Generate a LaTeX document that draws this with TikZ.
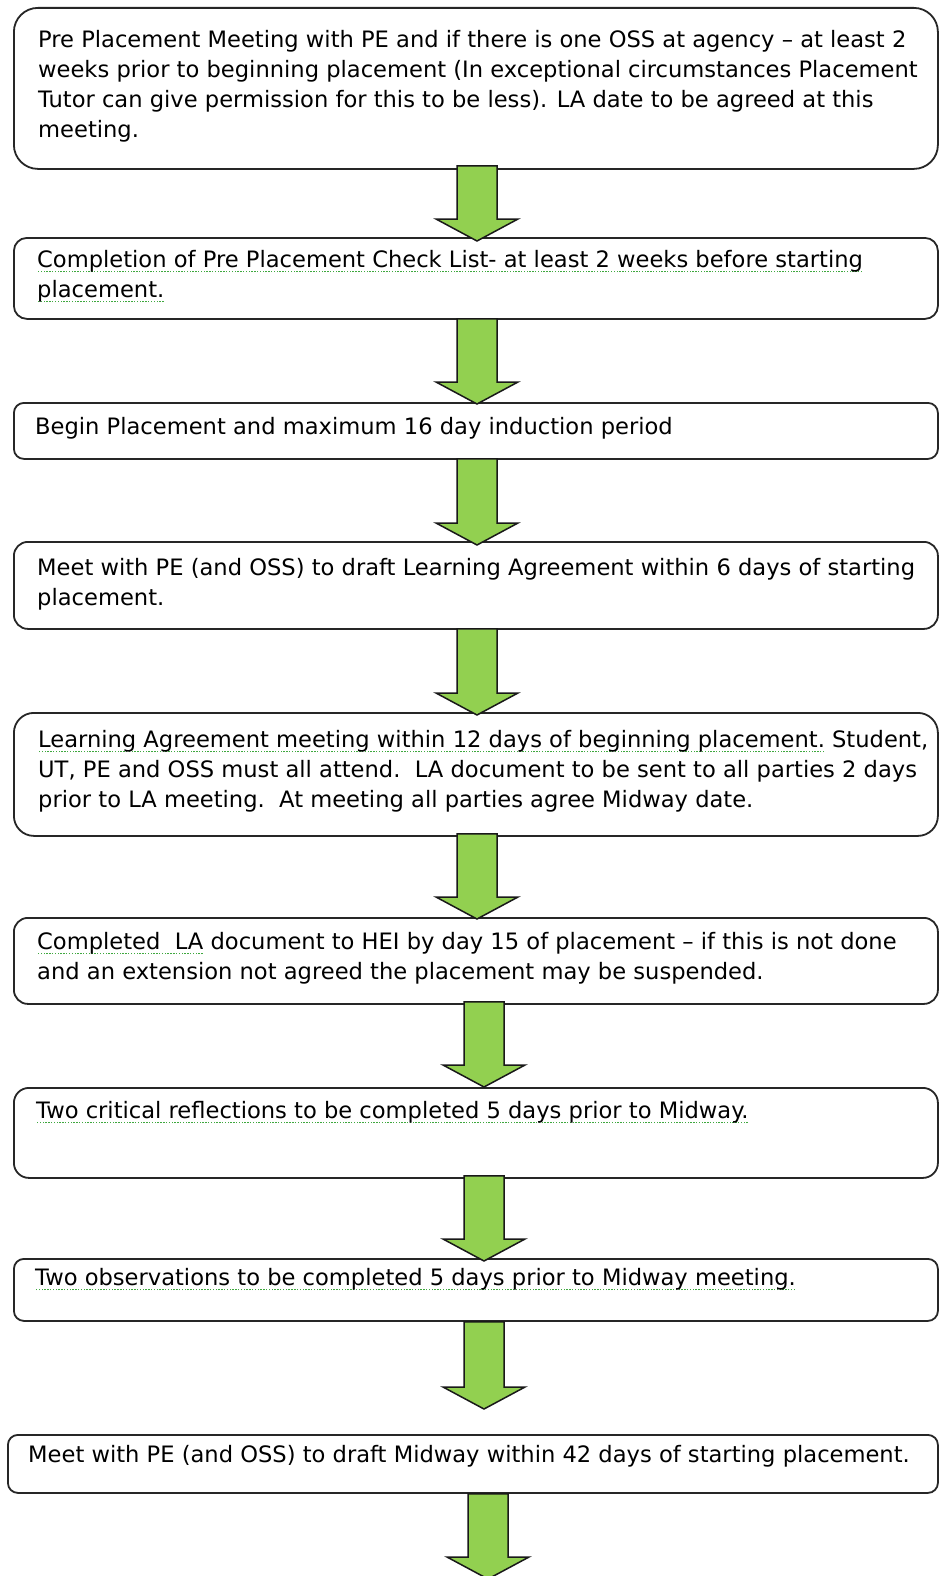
\documentclass[tikz,border=0pt]{standalone}
\usepackage{fontspec}
\setmainfont{DejaVu Sans}
\usetikzlibrary{calc}
\definecolor{arrowgreen}{HTML}{92D050}
\definecolor{gline}{HTML}{3FA83F}
\newsavebox\gulbox
\newcommand\gul[1]{\sbox\gulbox{#1}\rlap{\lower5pt\hbox to\wd\gulbox{\color{gline}\xleaders\hbox{\kern.7pt\rule{1.4pt}{1.4pt}\kern.7pt}\hfill}}\usebox\gulbox}
\newcommand\blockarrow[2]{%
  \draw[arr] ($(#1)+(-20,0)$) -- ($(#1)+(20,0)$) -- ($(#2)+(20,-22)$) -- ($(#2)+(41,-22)$)
    -- (#2) -- ($(#2)+(-41,-22)$) -- ($(#2)+(-20,-22)$) -- cycle;}
\begin{document}
\begin{tikzpicture}[x=1pt,y=-1pt,
  box/.style={draw=black!85, line width=1.8pt, fill=white, rectangle, anchor=north west, inner sep=0pt},
  txt/.style={anchor=base west, align=left, inner sep=0pt, font=\fontsize{22.6}{30}\selectfont},
  arr/.style={draw=black!90, line width=1.5pt, fill=arrowgreen, line join=miter}]
\path[use as bounding box, fill=white] (0,0) rectangle (938,1576);
% boxes
\node[box, rounded corners=24pt, minimum width=924pt, minimum height=161pt] (b1) at (13,7) {};
\node[box, rounded corners=13pt, minimum width=924pt, minimum height=81pt] (b2) at (13,237) {};
\node[box, rounded corners=10pt, minimum width=924pt, minimum height=56pt] (b3) at (13,402) {};
\node[box, rounded corners=14pt, minimum width=924pt, minimum height=87pt] (b4) at (13,541) {};
\node[box, rounded corners=20pt, minimum width=924pt, minimum height=123pt] (b5) at (13,712) {};
\node[box, rounded corners=14pt, minimum width=924pt, minimum height=86pt] (b6) at (13,917) {};
\node[box, rounded corners=15pt, minimum width=924pt, minimum height=90pt] (b7) at (13,1087) {};
\node[box, rounded corners=10pt, minimum width=924pt, minimum height=62pt] (b8) at (13,1258) {};
\node[box, rounded corners=10pt, minimum width=930pt, minimum height=58pt] (b9) at (7,1434) {};
% texts (anchor = baseline of the last line)
\node[txt] (x1) at (38,138) {Pre Placement Meeting with PE and if there is one OSS at agency – at least 2\\weeks prior to beginning placement (In exceptional circumstances Placement\\Tutor can give permission for this to be less). LA date to be agreed at this\\meeting.};
\node[txt] (x2) at (37,297) {\gul{Completion of Pre Placement Check List- at least 2 weeks before starting}\\\gul{placement.}};
\node[txt] (x3) at (35,434) {Begin Placement and maximum 16 day induction period};
\node[txt] (x4) at (37,605) {Meet with PE (and OSS) to draft Learning Agreement within 6 days of starting\\placement.};
\node[txt] (x5) at (38,807) {\gul{Learning Agreement meeting within 12 days of beginning placement.} Student,\\UT, PE and OSS must all attend.\ \ LA document to be sent to all parties 2 days\\prior to LA meeting.\ \ At meeting all parties agree Midway date.};
\node[txt] (x6) at (37,979) {\gul{Completed\ \ LA} document to HEI by day 15 of placement – if this is not done\\and an extension not agreed the placement may be suspended.};
\node[txt] (x7) at (36,1118) {\gul{Two critical reflections to be completed 5 days prior to Midway.}};
\node[txt] (x8) at (35,1285) {\gul{Two observations to be completed 5 days prior to Midway meeting.}};
\node[txt] (x9) at (28,1462) {Meet with PE (and OSS) to draft Midway within 42 days of starting placement.};
% arrow axes and ends
\coordinate (axA) at (477,0);
\coordinate (axB) at (484,0);
\coordinate (axC) at (488,0);
\coordinate (s1) at ($(b1.south -| axA)+(0,-4)$);
\coordinate (e1) at ($(b2.north -| axA)+(0,4)$);
\coordinate (s2) at ($(b2.south -| axA)+(0,-1)$);
\coordinate (e2) at ($(b3.north -| axA)+(0,2)$);
\coordinate (s3) at ($(b3.south -| axA)+(0,-1)$);
\coordinate (e3) at ($(b4.north -| axA)+(0,4)$);
\coordinate (s4) at ($(b4.south -| axA)+(0,-1)$);
\coordinate (e4) at ($(b5.north -| axA)+(0,3)$);
\coordinate (s5) at ($(b5.south -| axA)+(0,-3)$);
\coordinate (e5) at ($(b6.north -| axA)+(0,2)$);
\coordinate (s6) at ($(b6.south -| axB)+(0,-3)$);
\coordinate (e6) at (b7.north -| axB);
\coordinate (s7) at ($(b7.south -| axB)+(0,-3)$);
\coordinate (e7) at ($(b8.north -| axB)+(0,3)$);
\coordinate (s8) at (b8.south -| axB);
\coordinate (e8) at (484,1409);
\coordinate (s9) at (b9.south -| axC);
\coordinate (e9) at (488,1579);
% arrows
\blockarrow{s1}{e1}
\blockarrow{s2}{e2}
\blockarrow{s3}{e3}
\blockarrow{s4}{e4}
\blockarrow{s5}{e5}
\blockarrow{s6}{e6}
\blockarrow{s7}{e7}
\blockarrow{s8}{e8}
\blockarrow{s9}{e9}
\end{tikzpicture}
\end{document}
